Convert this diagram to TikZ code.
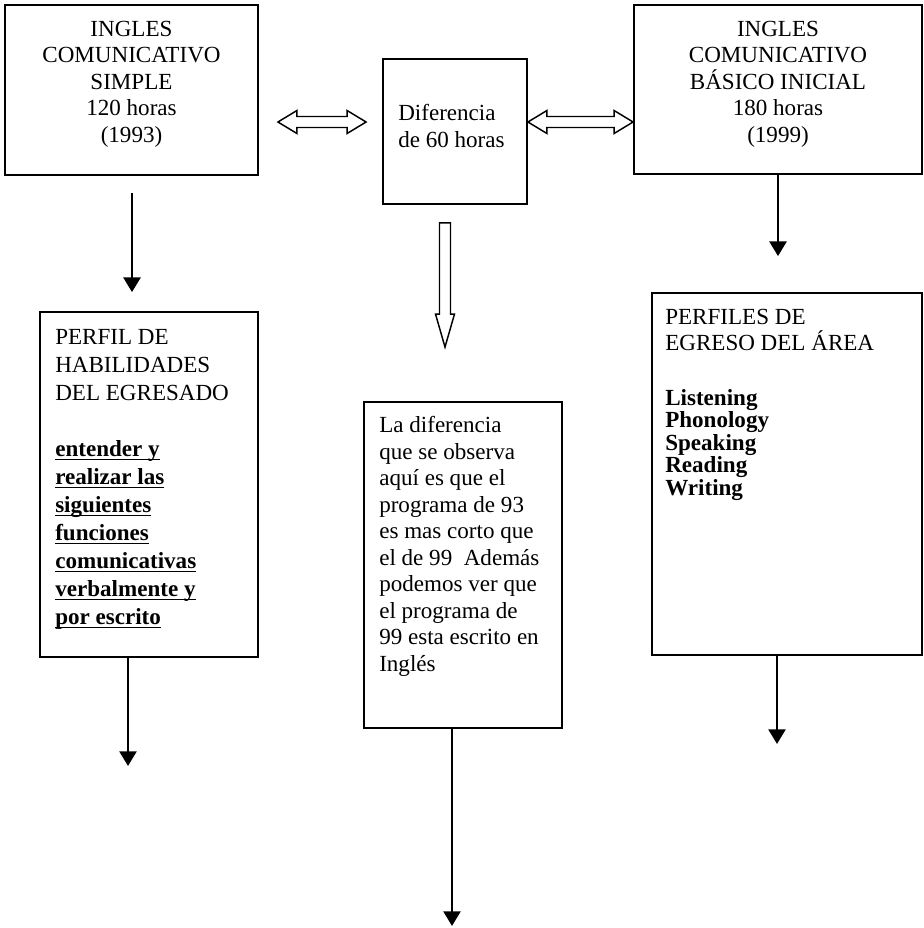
\documentclass[tikz,border=0pt]{standalone}
\usepackage{fontspec}
\setmainfont{Liberation Serif}
\usetikzlibrary{calc,arrows.meta}
% underline drawn at a fixed depth below the baseline
\newcommand{\undl}[1]{\setbox0\hbox{#1}\rlap{\rule[-2.6pt]{\wd0}{0.9pt}}\box0}

\begin{document}
\begin{tikzpicture}[x=0.75pt,y=-0.75pt,
  box/.style={draw,line width=1.4pt,inner sep=0pt},
  txt/.style={inner sep=0pt,font=\fontsize{17.3}{19.9}\selectfont},
  link/.style={line width=1.2pt,-{Triangle[width=13pt,length=11pt]}},
  hollow/.style={draw,line width=1.1pt,line join=miter,fill=white}]
\useasboundingbox (0,0) rectangle (924,928);
\fill[white] (0,0) rectangle (924,928);

% boxes
\node[box,minimum width=189.75pt,minimum height=127.5pt] (A) at (131.5,90) {};
\node[box,minimum width=108pt,minimum height=108.75pt] (B) at (455,131.5) {};
\node[box,minimum width=216pt,minimum height=126.75pt] (C) at (778,89.5) {};
\node[box,minimum width=163.5pt,minimum height=258.75pt] (D) at (149,484.5) {};
\node[box,minimum width=148.5pt,minimum height=244.5pt] (E) at (463,565) {};
\node[box,minimum width=202.5pt,minimum height=271.5pt] (F) at (787,474) {};

% texts
\node[txt,align=center] (tA) at (131.5,84) {INGLES\\COMUNICATIVO\\SIMPLE\\120 horas\\(1993)};
\node[txt,align=left,anchor=west] (tB) at (398,126) {Diferencia\\de 60 horas};
\node[txt,align=center] (tC) at (778,84) {INGLES\\COMUNICATIVO\\BÁSICO INICIAL\\180 horas\\(1999)};
\node[txt,align=left,anchor=north west,font=\fontsize{17.3}{21}\selectfont] (tD) at (55,329)
  {PERFIL DE\\HABILIDADES\\DEL EGRESADO\\[21pt]
   \undl{\textbf{entender y}}\\
   \undl{\textbf{realizar las}}\\
   \undl{\textbf{siguientes}}\\
   \undl{\textbf{funciones}}\\
   \undl{\textbf{comunicativas}}\\
   \undl{\textbf{verbalmente y}}\\
   \undl{\textbf{por escrito}}};
\node[txt,align=left,anchor=north west] (tE) at (379,416)
  {La diferencia\\que se observa\\aquí es que el\\programa de 93\\es mas corto que\\el de 99~~Además\\podemos ver que\\el programa de\\99 esta escrito en\\Inglés};
\node[txt,align=left,anchor=north west,font=\fontsize{17.3}{19.5}\selectfont] (tF) at (665,309)
  {PERFILES DE\\EGRESO DEL ÁREA\\[21.5pt]
   \textbf{Listening}\\[-2.6pt]
   \textbf{Phonology}\\[-2.6pt]
   \textbf{Speaking}\\[-2.6pt]
   \textbf{Reading}\\[-2.6pt]
   \textbf{Writing}};

% hollow double arrows between the top boxes
\coordinate (la) at ($(A.east)+(19,32)$);
\coordinate (lb) at ($(B.west)+(-16,-9.5)$);
\draw[hollow] (la) -- ($(la)+(19,-11.5)$) -- ($(la)+(19,-5.5)$) -- ($(lb)+(-19,-5.5)$)
  -- ($(lb)+(-19,-11.5)$) -- (lb) -- ($(lb)+(-19,11.5)$) -- ($(lb)+(-19,5.5)$)
  -- ($(la)+(19,5.5)$) -- ($(la)+(19,11.5)$) -- cycle;
\coordinate (ra) at ($(B.east)+(0,-9.5)$);
\coordinate (rb) at ($(C.west)+(0,32.5)$);
\draw[hollow] (ra) -- ($(ra)+(19,-11.5)$) -- ($(ra)+(19,-5.5)$) -- ($(rb)+(-19,-5.5)$)
  -- ($(rb)+(-19,-11.5)$) -- (rb) -- ($(rb)+(-19,11.5)$) -- ($(rb)+(-19,5.5)$)
  -- ($(ra)+(19,5.5)$) -- ($(ra)+(19,11.5)$) -- cycle;

% hollow arrow down from the middle box
\coordinate (da) at ($(B.south)+(-10,18)$);
\coordinate (db) at ($(E.north)+(-18,-54)$);
\draw[hollow] ($(da)+(-5.5,0)$) -- ($(db)+(-5.5,-33)$) -- ($(db)+(-9.5,-33)$) -- (db)
  -- ($(db)+(9.5,-33)$) -- ($(db)+(5.5,-33)$) -- ($(da)+(5.5,0)$) -- cycle;

% plain arrows
\coordinate (a1) at ($(A.south)+(0.5,17)$);
\coordinate (a2) at ($(D.north)+(-17,-19)$);
\draw[link] (a1) -- (a2);
\coordinate (c2) at ($(F.north)+(-9,-36)$);
\draw[link] (C.south) -- (c2);
\coordinate (d1) at ($(D.south)+(-21,0)$);
\coordinate (d2) at ($(d1)+(0,108)$);
\draw[link] (d1) -- (d2);
\coordinate (e1) at ($(E.south)+(-11,0)$);
\coordinate (e2) at ($(e1)+(0,197)$);
\draw[link] (e1) -- (e2);
\coordinate (f1) at ($(F.south)+(-10,0)$);
\coordinate (f2) at ($(f1)+(0,88)$);
\draw[link] (f1) -- (f2);
\end{tikzpicture}
\end{document}
